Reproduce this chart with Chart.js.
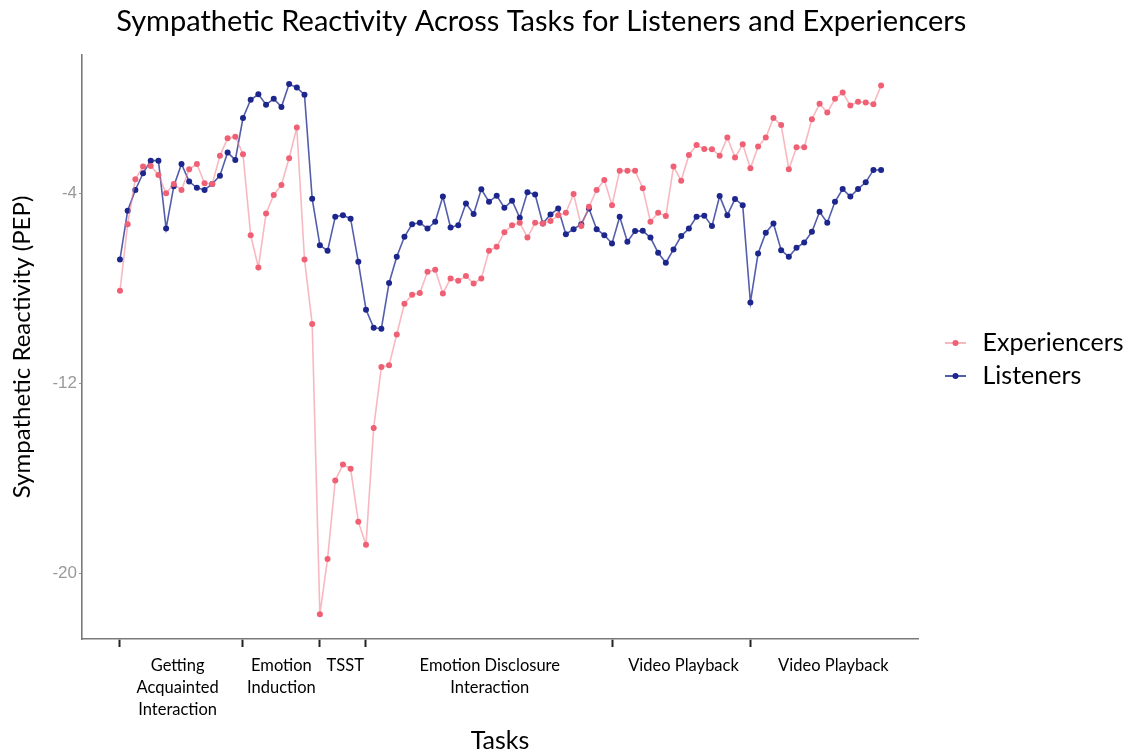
<!DOCTYPE html>
<html>
<head>
<meta charset="utf-8">
<script src="https://cdn.jsdelivr.net/npm/chart.js@4.4.1/dist/chart.umd.min.js"></script>
<style>
  html, body { margin: 0; padding: 0; background: #fff; }
  .chart-container { width: 1127px; height: 756px; }
</style>
</head>
<body>
<div class="chart-container"><canvas id="chart"></canvas></div>
<script>
// PEP reactivity per sample (100 samples across the session)
const experiencers = [
  -8.11, -5.31, -3.42, -2.89, -2.86, -3.24, -4.01, -3.62, -3.87, -3.00,
  -2.78, -3.59, -3.62, -2.43, -1.70, -1.63, -2.37, -5.77, -7.13, -4.86,
  -4.08, -3.66, -2.54, -1.25, -6.79, -9.50, -21.70, -19.38, -16.08, -15.41,
  -15.59, -17.81, -18.78, -13.87, -11.31, -11.24, -9.94, -8.65, -8.27, -8.20,
  -7.31, -7.22, -8.22, -7.59, -7.69, -7.49, -7.80, -7.59, -6.43, -6.26,
  -5.65, -5.35, -5.25, -5.87, -5.25, -5.28, -5.18, -4.93, -4.83, -4.04,
  -5.39, -4.58, -3.87, -3.45, -4.51, -3.06, -3.06, -3.06, -3.80, -5.21,
  -4.83, -4.97, -2.89, -3.48, -2.40, -1.98, -2.15, -2.16, -2.43, -1.67,
  -2.51, -1.95, -2.96, -2.05, -1.67, -0.85, -1.14, -3.00, -2.08, -2.08,
  -0.90, -0.25, -0.62, -0.04, 0.22, -0.32, -0.16, -0.20, -0.27, 0.52
];
const listeners = [
  -6.79, -4.74, -3.87, -3.17, -2.64, -2.64, -5.49, -3.71, -2.78, -3.52,
  -3.78, -3.87, -3.62, -3.27, -2.30, -2.61, -0.85, -0.08, 0.15, -0.29,
  -0.04, -0.38, 0.58, 0.43, 0.13, -4.24, -6.19, -6.43, -5.00, -4.93,
  -5.08, -6.89, -8.90, -9.66, -9.70, -7.78, -6.68, -5.84, -5.31, -5.25,
  -5.49, -5.21, -4.15, -5.45, -5.35, -4.44, -4.88, -3.84, -4.37, -4.11,
  -4.62, -4.32, -5.04, -3.97, -4.06, -5.28, -4.90, -4.65, -5.73, -5.52,
  -5.31, -4.65, -5.52, -5.77, -6.12, -5.00, -6.05, -5.60, -5.59, -5.87,
  -6.51, -6.93, -6.37, -5.81, -5.49, -5.00, -4.95, -5.39, -4.13, -4.93,
  -4.25, -4.51, -8.60, -6.54, -5.67, -5.28, -6.40, -6.68, -6.30, -6.08,
  -5.63, -4.79, -5.25, -4.37, -3.83, -4.15, -3.83, -3.55, -3.03, -3.03
];
const sampleIndex = Array.from({ length: experiencers.length }, (_, i) => i);

// task segments on the x axis
const taskBoundaries = [0, 16, 26, 32, 64, 82];
const taskCentres = [7.5, 21, 29.3, 48.1, 73.3, 92.8];
const taskLabels = [
  ['Getting', 'Acquainted', 'Interaction'],
  ['Emotion', 'Induction'],
  ['TSST'],
  ['Emotion Disclosure', 'Interaction'],
  ['Video Playback'],
  ['Video Playback'],
];
const yTicks = [-4, -12, -20];

const RED = 'rgba(240, 96, 116, 1)';
const RED_LINE = 'rgba(242, 125, 140, 0.55)';
const BLUE = 'rgba(28, 38, 140, 1)';
const BLUE_LINE = 'rgba(40, 52, 150, 0.8)';

// little "line with a dot" swatch for the legend
const makeSwatch = (lineColor, dotColor) => {
  const c = document.createElement('canvas');
  c.width = 44;
  c.height = 10;
  const ctx = c.getContext('2d');
  ctx.strokeStyle = lineColor;
  ctx.lineWidth = 2;
  ctx.beginPath();
  ctx.moveTo(19, 5);
  ctx.lineTo(40, 5);
  ctx.stroke();
  ctx.fillStyle = dotColor;
  ctx.beginPath();
  ctx.arc(29.5, 5, 3, 0, Math.PI * 2);
  ctx.fill();
  return c;
};
const swatches = [makeSwatch(RED_LINE, RED), makeSwatch(BLUE_LINE, BLUE)];

const FONT = 'Lato, "Open Sans", sans-serif';
const PAD = '\u00A0'.repeat(6); // nudges the centred title left like the original

new Chart(document.getElementById('chart'), {
  type: 'line',
  data: {
    labels: sampleIndex,
    datasets: [
      {
        label: 'Experiencers',
        data: experiencers,
        borderColor: RED_LINE,
        backgroundColor: RED,
        pointBackgroundColor: RED,
        pointBorderWidth: 0,
        pointRadius: 3,
        borderWidth: 1.6,
        tension: 0,
      },
      {
        label: 'Listeners',
        data: listeners,
        borderColor: BLUE_LINE,
        backgroundColor: BLUE,
        pointBackgroundColor: BLUE,
        pointBorderWidth: 0,
        pointRadius: 3,
        borderWidth: 1.6,
        tension: 0,
      },
    ],
  },
  options: {
    responsive: true,
    maintainAspectRatio: false,
    animation: false,
    layout: { padding: 0 },
    plugins: {
      title: {
        display: true,
        text: 'Sympathetic Reactivity Across Tasks for Listeners and Experiencers' + PAD,
        color: '#000',
        font: { family: FONT, size: 29, weight: 'normal', lineHeight: 1.1 },
        padding: { top: 5.5, bottom: 17.6 },
      },
      legend: {
        position: 'right',
        align: 'start',
        maxWidth: 209,
        title: { display: true, text: ' ', font: { size: 10, lineHeight: 1 }, padding: { top: 0, bottom: 312.5 } },
        labels: {
          color: '#000',
          font: { family: FONT, size: 25 },
          usePointStyle: true,
          pointStyleWidth: 44,
          padding: 8,
          generateLabels: (chart) => {
            const items = Chart.defaults.plugins.legend.labels.generateLabels(chart);
            items.forEach((item, i) => { item.pointStyle = swatches[i]; });
            return items;
          },
        },
      },
      tooltip: { enabled: false },
    },
    scales: {
      x: {
        type: 'linear',
        min: -4.94,
        max: 103.8,
        afterBuildTicks: (scale) => {
          scale.ticks = taskBoundaries.map(v => ({ value: v, boundary: true }))
            .concat(taskCentres.map((v, i) => ({ value: v, task: i })));
        },
        afterFit: (scale) => { scale.height = 117; },
        grid: {
          drawOnChartArea: false,
          drawTicks: true,
          tickLength: 8,
          tickWidth: 2,
          tickColor: (ctx) => (ctx.tick && ctx.tick.boundary ? '#222' : 'rgba(0,0,0,0)'),
        },
        border: { color: '#7a7a7a', width: 1.6 },
        ticks: {
          autoSkip: false,
          maxRotation: 0,
          padding: 8,
          color: '#000',
          font: { family: FONT, size: 16.5, lineHeight: 1.33 },
          callback: function (value, index, ticks) {
            const t = ticks[index];
            return t.task !== undefined ? taskLabels[t.task] : '';
          },
        },
        title: {
          display: true,
          text: 'Tasks',
          color: '#000',
          font: { family: FONT, size: 25 },
          padding: { top: 0, bottom: 0 },
        },
      },
      y: {
        min: -22.74,
        max: 1.8,
        afterBuildTicks: (scale) => { scale.ticks = yTicks.map(v => ({ value: v })); },
        afterFit: (scale) => { scale.width = 82; },
        grid: {
          drawOnChartArea: false,
          tickLength: 3,
          tickColor: '#999',
        },
        border: { color: '#7a7a7a', width: 1.6 },
        ticks: {
          padding: 2,
          color: '#9a9a9a',
          font: { family: '"Liberation Sans", Arial, sans-serif', size: 17 },
        },
        title: {
          display: true,
          text: 'Sympathetic Reactivity (PEP)',
          color: '#000',
          font: { family: FONT, size: 24 },
          padding: { top: 8, bottom: 0 },
        },
      },
    },
  },
});
</script>
</body>
</html>
